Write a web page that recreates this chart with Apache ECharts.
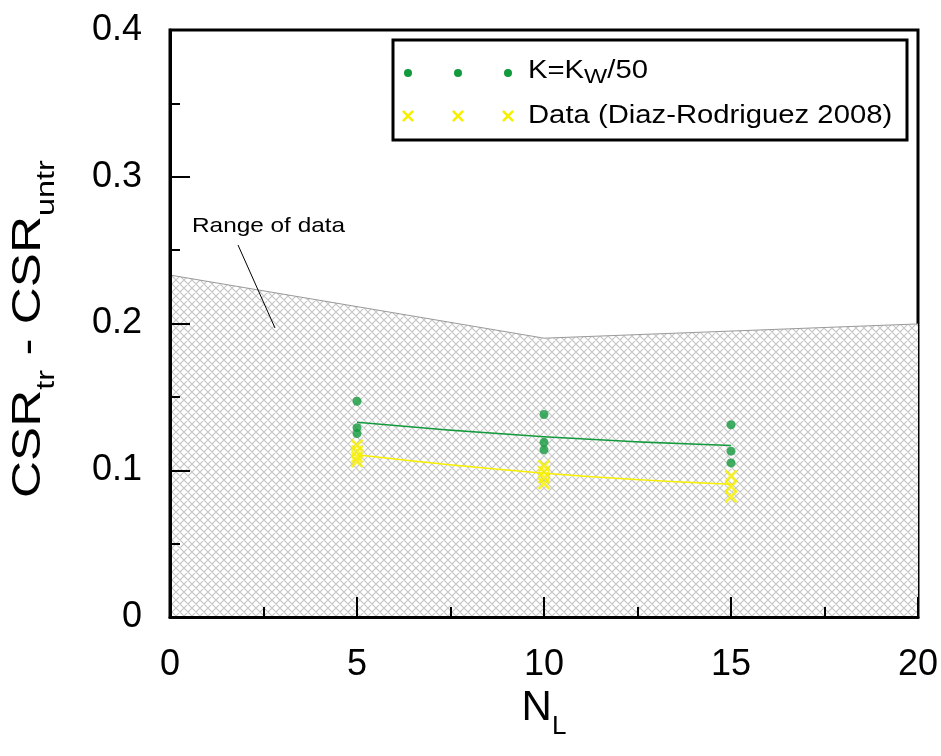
<!DOCTYPE html>
<html>
<head>
<meta charset="utf-8">
<script src="https://cdn.jsdelivr.net/npm/echarts@6/dist/echarts.min.js"></script>
<style>
html,body{margin:0;padding:0;background:#fff;}
#chart{width:941px;height:756px;}
</style>
</head>
<body>
<div id="chart"></div>
<script>
// ---- data ----
var xTicks = [0, 5, 10, 15, 20];
var yTicks = [0, 0.1, 0.2, 0.3, 0.4];
var rangeTop = [[0, 0.233], [10, 0.190], [20, 0.1997]];
var kPoints = [
  [5, 0.147], [5, 0.129], [5, 0.125],
  [10, 0.138], [10, 0.119], [10, 0.114],
  [15, 0.131], [15, 0.113], [15, 0.105]
];
var kLine = [[5, 0.1327], [10, 0.1228], [15, 0.1168]];
var dataPoints = [
  [5, 0.117], [5, 0.113], [5, 0.109], [5, 0.106],
  [10, 0.103], [10, 0.099], [10, 0.095], [10, 0.091],
  [15, 0.096], [15, 0.089], [15, 0.082]
];
var dataLine = [[5, 0.1105], [10, 0.098], [15, 0.0905]];

var GREEN = '#129a3c';
var YELLOW = '#f7f000';
var FONT = 'Liberation Sans, Arial, sans-serif';
var XPATH = 'path://M0,1.5 L1.5,0 L5,3.5 L8.5,0 L10,1.5 L6.5,5 L10,8.5 L8.5,10 L5,6.5 L1.5,10 L0,8.5 L3.5,5 Z';
var XPTS = [[0,1.5],[1.5,0],[5,3.5],[8.5,0],[10,1.5],[6.5,5],[10,8.5],[8.5,10],[5,6.5],[1.5,10],[0,8.5],[3.5,5]];

// hatch pattern
var pc = document.createElement('canvas');
pc.width = 8; pc.height = 8;
var g = pc.getContext('2d');
g.fillStyle = '#ffffff'; g.fillRect(0, 0, 8, 8);
g.strokeStyle = '#c4c4c4'; g.lineWidth = 1.1;
g.beginPath();
[-8, 0, 8].forEach(function (dx) {
  g.moveTo(dx, 0); g.lineTo(dx + 8, 8);
  g.moveTo(dx + 8, 0); g.lineTo(dx, 8);
});
g.stroke();

var chart = echarts.init(document.getElementById('chart'), null, {renderer: 'canvas'});
var option = {
  animation: false,
  backgroundColor: '#ffffff',
  grid: {left: 170, top: 30, width: 748, height: 587, show: true, borderColor: '#000', borderWidth: 3,
         backgroundColor: 'transparent', containLabel: false, outerBoundsMode: 'none'},
  xAxis: {
    type: 'value', min: xTicks[0], max: xTicks[xTicks.length - 1], interval: 5, z: 10,
    name: '{m|N}{s|L}', nameLocation: 'middle', nameGap: 66,
    nameTextStyle: {rich: {
      m: {fontFamily: FONT, fontSize: 42, color: '#000', lineHeight: 52, verticalAlign: 'top'},
      s: {fontFamily: FONT, fontSize: 26, color: '#000', lineHeight: 26, verticalAlign: 'bottom'}
    }},
    axisLine: {lineStyle: {color: '#000', width: 3}},
    axisTick: {inside: true, length: 20, lineStyle: {color: '#000', width: 2}},
    minorTick: {show: true, splitNumber: 2, length: 10, lineStyle: {color: '#000', width: 2}},
    splitLine: {show: false},
    axisLabel: {fontFamily: FONT, fontSize: 36, color: '#000', margin: 30}
  },
  yAxis: {
    type: 'value', min: yTicks[0], max: yTicks[yTicks.length - 1], interval: 0.1, z: 10,
    axisLine: {lineStyle: {color: '#000', width: 3}},
    axisTick: {inside: true, length: 20, lineStyle: {color: '#000', width: 2}},
    minorTick: {show: true, splitNumber: 2, length: 10, lineStyle: {color: '#000', width: 2}},
    splitLine: {show: false},
    axisLabel: {fontFamily: FONT, fontSize: 36, color: '#000', margin: 28}
  },
  series: [
    {
      type: 'line', data: rangeTop, symbol: 'none', z: 1,
      lineStyle: {color: '#9a9a9a', width: 1},
      areaStyle: {color: {image: pc, repeat: 'repeat'}, opacity: 1}
    },
    {
      type: 'line', data: kLine, symbol: 'none', smooth: true, z: 3,
      lineStyle: {color: GREEN, width: 1.5}
    },
    {
      type: 'line', data: dataLine, symbol: 'none', smooth: true, z: 3,
      lineStyle: {color: YELLOW, width: 1.5}
    },
    {
      type: 'scatter', data: kPoints, symbol: 'circle', symbolSize: 9, z: 4,
      itemStyle: {color: GREEN}
    },
    {
      type: 'scatter', data: dataPoints, symbol: XPATH, symbolSize: 13, z: 4,
      itemStyle: {color: YELLOW}
    }
  ],
  graphic: [
    // y-axis title
    {type: 'text', x: 34, y: 329, rotation: Math.PI / 2, scaleX: 1.25, z: 11, style: {
      text: '{m|CSR}{s|tr}{m| - CSR}{s|untr}', align: 'center', verticalAlign: 'middle', rich: {
        m: {fontFamily: FONT, fontSize: 41, fill: '#000', lineHeight: 52, verticalAlign: 'top'},
        s: {fontFamily: FONT, fontSize: 26, fill: '#000', lineHeight: 26, verticalAlign: 'bottom'}
      }}},
    // legend
    {type: 'rect', shape: {x: 393, y: 40, width: 514, height: 100}, style: {fill: '#fff', stroke: '#000', lineWidth: 3}, z: 10},
    {type: 'circle', shape: {cx: 408, cy: 73, r: 4}, style: {fill: GREEN}, z: 11},
    {type: 'circle', shape: {cx: 458, cy: 73, r: 4}, style: {fill: GREEN}, z: 11},
    {type: 'circle', shape: {cx: 508, cy: 73, r: 4}, style: {fill: GREEN}, z: 11},
    {type: 'text', x: 528, y: 59, scaleX: 1.17, z: 11, style: {
      text: '{m|K=K}{s|W}{m|/50}', rich: {
        m: {fontFamily: FONT, fontSize: 25, fill: '#000', lineHeight: 29, verticalAlign: 'top'},
        s: {fontFamily: FONT, fontSize: 21, fill: '#000', lineHeight: 21, verticalAlign: 'bottom'}
      }}},
    {type: 'text', x: 528, y: 104, scaleX: 1.17, z: 11, style: {text: 'Data (Diaz-Rodriguez 2008)', font: '25px ' + FONT, fill: '#000'}},
    // annotation
    {type: 'text', x: 192, y: 216, scaleX: 1.16, z: 11, style: {text: 'Range of data', font: '21px ' + FONT, fill: '#000'}},
    {type: 'line', shape: {x1: 238, y1: 245, x2: 275, y2: 328}, style: {stroke: '#000', lineWidth: 1}, z: 11}
  ]
};
// legend X markers
[408, 458, 508].forEach(function (cx) {
  option.graphic.push({type: 'polygon', shape: {points: XPTS.map(function (p) { return [cx - 6 + p[0] * 1.2, 110 + p[1] * 1.2]; })}, style: {fill: YELLOW}, z: 11});
});
chart.setOption(option);
</script>
</body>
</html>
